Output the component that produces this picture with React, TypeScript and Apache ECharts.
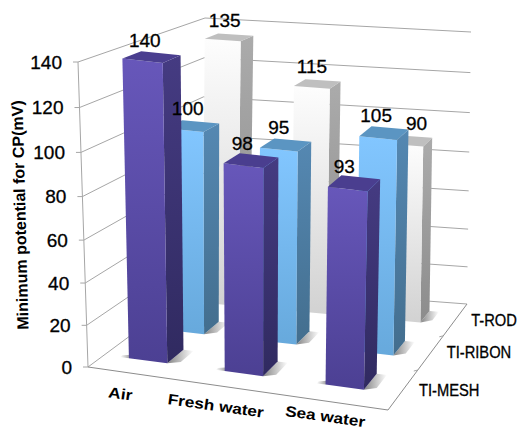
import React, { useEffect, useRef } from "react";
import * as echarts from "echarts";

const categories = ["Air", "Fresh water", "Sea water"];
const depthRows = ["TI-MESH", "TI-RIBON", "T-ROD"];
const meshValues = [140, 98, 93];
const ribonValues = [100, 95, 105];
const rodValues = [135, 115, 90];
const valueTicks = [0, 20, 40, 60, 80, 100, 120, 140];
const axisTitle = "Minimum potential for CP(mV)";

// Screen position of the eight corners of the plot box: [u, v, w] bits -> [x, y].
const C000 = [88, 367];
const C100 = [388, 410];
const C001 = [200, 284];
const C101 = [467, 304];
const C010 = [78, 62];
const C110 = [396, 100];
const C011 = [205, 18];
const C111 = [471, 32];

// Bands of depth occupied by each row, front to back, and depth tick positions.
const ROW_FRONT = [0.146, 0.48, 0.8];
const ROW_BACK = [0.3, 0.62, 0.91];
const ROW_MID = [0.19, 0.54, 0.85];
const ROW_SHIFT = [0, 0.006, 0.008];
const DEPTH_TICKS = [0.377, 0.7];
const BAR_HALF = 0.065;
// Horizontal nudge of the value labels, one list per row.
const LABEL_DX = [[-7, -9, -10], [-5, -7, -8], [-4.5, -5.5, 6.5]];
const CATEGORY_DX = [-12, -14, -7];
const CATEGORY_DY = [20, 18, 14];
const FONT = '"Liberation Sans", Arial, sans-serif';

const warp = (t: number, a: number) => t / (a - (a - 1) * t);
const mix = (a: number[], b: number[], t: number) => [a[0] + (b[0] - a[0]) * t, a[1] + (b[1] - a[1]) * t];

// Maps box coordinates (0..1 on each axis) to the page, foreshortening along height.
function project(u: number, v: number, w: number) {
  const h = warp(v, 1.053);
  const front = mix(mix(C000, C100, u), mix(C010, C110, u), h);
  const back = mix(mix(C001, C101, u), mix(C011, C111, u), h);
  return mix(front, back, w);
}

const grad = (top: string, bottom: string) =>
  new echarts.graphic.LinearGradient(0, 0, 0, 1, [
    { offset: 0, color: top },
    { offset: 1, color: bottom },
  ]);

const fade = (fromLeft: boolean) =>
  new echarts.graphic.LinearGradient(fromLeft ? 0 : 1, 0, fromLeft ? 1 : 0, 0, [
    { offset: 0, color: "rgba(50,50,50,0.6)" },
    { offset: 1, color: "rgba(50,50,50,0)" },
  ]);

const palette = {
  mesh: { front: ["#6757BA", "#4C4093"], side: ["#453B82", "#302A60"], top: "#4A3E8F" },
  ribon: { front: ["#82C6FF", "#67A9DC"], side: ["#5588B2", "#436E8E"], top: "#5B95C2" },
  rod: { front: ["#FDFDFD", "#D2D2D2"], side: ["#ABABAB", "#8C8C8C"], top: "#BFBFBF" },
};

function normalised(api: any, params: any, index: number, value: number) {
  const pt = api.coord([index, value]);
  const cs = params.coordSys;
  return { u: (pt[0] - cs.x) / cs.width, v: (cs.y + cs.height - pt[1]) / cs.height };
}

const centreU = (u: number) => warp(u, 1.08) - 0.008;

function barSeries(name: string, values: number[], row: number, colors: any, z: number) {
  return {
    type: "custom",
    name,
    z,
    silent: true,
    data: values.map((v, i) => [i, v]),
    renderItem: (params: any, api: any) => {
      const { u, v } = normalised(api, params, api.value(0), api.value(1));
      const c = centreU(u) + ROW_SHIFT[row];
      const l = c - BAR_HALF;
      const r = c + BAR_HALF;
      const f = ROW_FRONT[row];
      const b = ROW_BACK[row];
      const quad = (pts: number[][], fill: any) => ({
        type: "polygon",
        shape: { points: pts },
        style: { fill },
      });
      return {
        type: "group",
        children: [
          // Soft contact shadows on the floor, either side of the base.
          quad([project(r, 0, f), project(r + 0.035, 0, f + 0.03), project(r + 0.035, 0, b), project(r, 0, b)], fade(true)),
          quad([project(l, 0, f), project(l - 0.03, 0, f), project(l - 0.03, 0, f + 0.02), project(l, 0, f + 0.04)], fade(false)),
          quad([project(r, 0, f), project(r, 0, b), project(r, v, b), project(r, v, f)], grad(colors.side[0], colors.side[1])),
          quad([project(l, 0, f), project(r, 0, f), project(r, v, f), project(l, v, f)], grad(colors.front[0], colors.front[1])),
          quad([project(l, v, f), project(r, v, f), project(r, v, b), project(l, v, b)], colors.top),
        ],
      };
    },
  };
}

const numberStyle = {
  font: `19px ${FONT}`,
  fill: "#000",
  stroke: "#000",
  lineWidth: 0.3,
  verticalAlign: "middle",
  shadowBlur: 3,
  shadowOffsetY: 6,
  shadowColor: "rgba(0,0,0,0.25)",
};

function valueLabelSeries(values: number[], row: number) {
  return {
    type: "custom",
    z: 20,
    silent: true,
    data: values.map((v, i) => [i, v]),
    renderItem: (params: any, api: any) => {
      const i = api.value(0);
      const { u, v } = normalised(api, params, i, api.value(1));
      const p = project(centreU(u) + ROW_SHIFT[row], v, (ROW_FRONT[row] + ROW_BACK[row]) / 2);
      return {
        type: "text",
        x: p[0] + LABEL_DX[row][i],
        y: p[1] - 17,
        style: { ...numberStyle, text: String(api.value(1)), align: "center" },
      };
    },
  };
}

const stroke = { stroke: "#a6a6a6", lineWidth: 1 };
const segment = (a: number[], b: number[], style: any = stroke) => ({
  type: "line",
  shape: { x1: a[0], y1: a[1], x2: b[0], y2: b[1] },
  style,
});

export default function App() {
  const ref = useRef<HTMLDivElement>(null);

  useEffect(() => {
    document.body.style.margin = "0";
    const chart = echarts.init(ref.current!, undefined, { renderer: "svg" });
    chart.setOption({
      animation: false,
      backgroundColor: "#ffffff",
      grid: { left: 100, top: 60, width: 300, height: 300, show: false },
      xAxis: { type: "category", data: categories, show: false },
      yAxis: { type: "value", min: 0, max: 140, interval: 20, show: false },
      graphic: [
        {
          type: "text",
          x: 20,
          y: 215,
          rotation: (91.5 * Math.PI) / 180,
          z: 30,
          style: {
            text: axisTitle,
            font: `bold 16px ${FONT}`,
            fill: "#000",
            align: "center",
            verticalAlign: "middle",
          },
        },
      ],
      series: [
        {
          // Walls and floor: gridlines, the value axis with its tick labels.
          type: "custom",
          z: 1,
          silent: true,
          data: valueTicks.map((t) => [0, t]),
          renderItem: (params: any, api: any) => {
            const { v } = normalised(api, params, 0, api.value(1));
            const a = project(0, v, 0);
            return {
              type: "group",
              children: [
                segment(a, project(0, v, 1)),
                segment(project(0, v, 1), project(1, v, 1)),
                segment(a, [a[0] - 5, a[1]]),
                {
                  type: "text",
                  x: a[0] - 16,
                  y: a[1],
                  style: { ...numberStyle, text: String(api.value(1)), align: "right" },
                },
              ],
            };
          },
        },
        {
          // Box edges on the floor and the value axis line.
          type: "custom",
          z: 1,
          silent: true,
          data: [[0, 0]],
          renderItem: () => ({
            type: "group",
            children: [
              segment(project(0, 0, 0), project(0, 1, 0)),
              segment(project(0, 0, 0), project(1, 0, 0), { stroke: "#8c8c8c", lineWidth: 1 }),
              segment(project(1, 0, 0), project(1, 0, 1), { stroke: "#8c8c8c", lineWidth: 1 }),
              ...DEPTH_TICKS.map((w) => {
                const p = project(1, 0, w);
                return segment(p, [p[0] - 4, p[1] + 1]);
              }),
            ],
          }),
        },
        {
          // Category names along the front floor edge.
          type: "custom",
          z: 20,
          silent: true,
          data: categories.map((_, i) => [i, 0]),
          renderItem: (params: any, api: any) => {
            const i = api.value(0);
            const { u } = normalised(api, params, i, 0);
            const p = project(centreU(u), 0, 0);
            return {
              type: "text",
              x: p[0] + CATEGORY_DX[i],
              y: p[1] + CATEGORY_DY[i],
              rotation: (-8 * Math.PI) / 180,
              scaleX: 1.15,
              style: {
                text: categories[i],
                font: `bold 15px ${FONT}`,
                fill: "#000",
                align: "center",
                verticalAlign: "middle",
              },
            };
          },
        },
        {
          // Row names along the right floor edge.
          type: "custom",
          z: 20,
          silent: true,
          data: depthRows.map((_, i) => [i, 0]),
          renderItem: (_params: any, api: any) => {
            const r = api.value(0);
            const p = project(1, 0, ROW_MID[r]);
            return {
              type: "text",
              x: p[0] + 16,
              y: p[1],
              scaleX: 0.92,
              style: {
                text: depthRows[r],
                font: `16px ${FONT}`,
                fill: "#000",
                stroke: "#000",
                lineWidth: 0.3,
                align: "left",
                verticalAlign: "middle",
              },
            };
          },
        },
        barSeries("T-ROD", rodValues, 2, palette.rod, 5),
        barSeries("TI-RIBON", ribonValues, 1, palette.ribon, 6),
        barSeries("TI-MESH", meshValues, 0, palette.mesh, 7),
        valueLabelSeries(rodValues, 2),
        valueLabelSeries(ribonValues, 1),
        valueLabelSeries(meshValues, 0),
      ],
    });
    return () => chart.dispose();
  }, []);

  return <div ref={ref} style={{ width: 517, height: 428 }} />;
}
